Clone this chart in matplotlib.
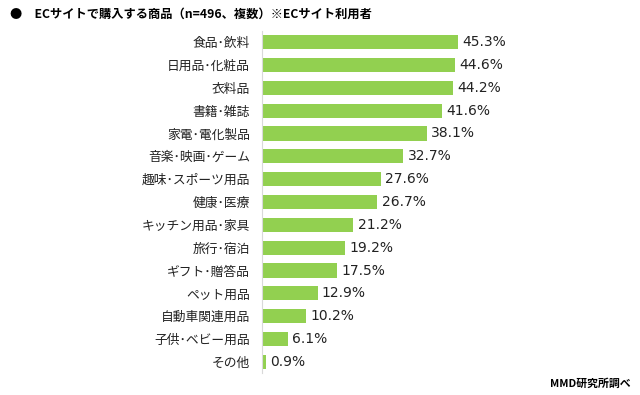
import matplotlib
matplotlib.use("Agg")
import matplotlib.pyplot as plt

plt.rcParams['font.family'] = ['Noto Sans CJK JP', 'DejaVu Sans']

categories = ["食品･飲料", "日用品･化粧品", "衣料品", "書籍･雑誌", "家電･電化製品",
              "音楽･映画･ゲーム", "趣味･スポーツ用品", "健康･医療", "キッチン用品･家具",
              "旅行･宿泊", "ギフト･贈答品", "ペット用品", "自動車関連用品", "子供･ベビー用品", "その他"]
values = [45.3, 44.6, 44.2, 41.6, 38.1, 32.7, 27.6, 26.7, 21.2, 19.2, 17.5, 12.9, 10.2, 6.1, 0.9]
title = "●　ECサイトで購入する商品（n=496、複数）※ECサイト利用者"
source = "MMD研究所調べ"

fig = plt.figure(figsize=(6.4, 3.95), dpi=100)
ax = fig.add_axes([0.409, 0.0547, 0.338, 0.8678])
y = list(range(len(categories)))
ax.barh(y, values, height=0.62, color="#92D050")
ax.set_ylim(len(categories) - 0.5, -0.5)
ax.set_xlim(0, 50)
ax.set_yticks(y)
ax.set_yticklabels(categories, fontsize=9.2, color="#222222")
ax.tick_params(axis='y', length=0, pad=8.5)
ax.set_xticks([])
for s in ["top", "right", "bottom"]:
    ax.spines[s].set_visible(False)
ax.spines["left"].set_color("#d9d9d9")
for yi, v in zip(y, values):
    ax.text(v + 1.0, yi, f"{v}%", va="center", ha="left", fontsize=10, color="#222222",
            family=["DejaVu Sans"])
fig.text(0.015, 0.965, title, fontsize=8.8, fontweight="bold", va="center", ha="left")
fig.text(0.985, 0.03, source, fontsize=7.8, fontweight="bold", va="center", ha="right")
fig.savefig("out.png", dpi=100)
